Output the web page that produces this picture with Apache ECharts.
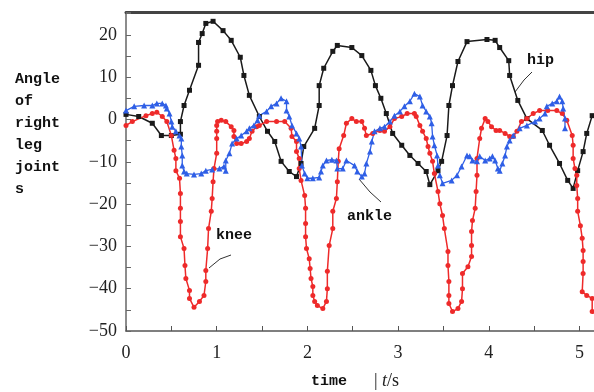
<!DOCTYPE html>
<html>
<head>
<meta charset="utf-8">
<script src="https://cdn.jsdelivr.net/npm/echarts@6/dist/echarts.min.js"></script>
<style>
html,body{margin:0;padding:0;background:#fff;}
#main{width:594px;height:392px;}
</style>
</head>
<body>
<div id="main"></div>
<script>
// hip (black, squares)
var hipT = [0.00,0.14,0.29,0.39,0.50,0.60,0.60,0.64,0.70,0.80,0.80,0.84,0.88,0.96,1.07,1.16,1.26,1.30,1.36,1.47,1.56,1.64,1.71,1.80,1.88,1.93,1.96,2.08,2.13,2.13,2.18,2.28,2.33,2.49,2.60,2.70,2.75,2.81,2.87,2.94,3.04,3.13,3.22,3.31,3.35,3.44,3.48,3.54,3.56,3.60,3.66,3.76,3.98,4.07,4.12,4.22,4.23,4.32,4.42,4.59,4.67,4.78,4.87,4.93,4.98,5.04,5.08,5.14];
var hipV = [1.2,0.7,-0.9,-3.8,-3.8,-3.5,-0.5,3.3,6.9,12.8,18.2,20.3,22.7,23.2,21.0,18.7,14.7,10.4,5.7,0.7,-2.8,-5.2,-9.9,-12.3,-13.5,-10.4,-6.4,-2.1,3.3,8.0,12.1,16.1,17.5,17.0,15.1,11.6,8.0,5.0,1.4,-3.3,-6.1,-8.5,-10.4,-12.3,-15.4,-12.1,-9.9,-3.8,3.3,8.0,13.7,18.4,18.9,18.7,17.0,13.9,10.4,4.5,0.2,-2.6,-6.1,-10.4,-14.4,-16.3,-12.1,-7.6,-3.3,0.9];

// knee (red, circles)
var kneeT = [0.00,0.07,0.22,0.29,0.34,0.40,0.45,0.50,0.53,0.55,0.55,0.59,0.60,0.60,0.60,0.60,0.64,0.65,0.66,0.70,0.70,0.75,0.81,0.86,0.88,0.88,0.90,0.91,0.94,0.95,0.96,0.97,1.00,1.00,1.00,1.00,1.01,1.05,1.10,1.16,1.19,1.19,1.22,1.27,1.33,1.36,1.39,1.44,1.47,1.55,1.66,1.75,1.82,1.83,1.88,1.88,1.91,1.91,1.93,1.97,1.98,1.98,1.98,1.99,2.02,2.03,2.04,2.06,2.06,2.08,2.11,2.17,2.21,2.22,2.22,2.24,2.28,2.28,2.32,2.33,2.34,2.35,2.40,2.43,2.49,2.54,2.60,2.63,2.65,2.72,2.80,2.85,2.91,2.96,3.04,3.10,3.18,3.20,3.24,3.27,3.31,3.33,3.35,3.38,3.40,3.44,3.46,3.49,3.51,3.55,3.55,3.56,3.56,3.56,3.60,3.66,3.70,3.71,3.71,3.77,3.81,3.81,3.81,3.82,3.85,3.86,3.87,3.87,3.90,3.92,3.96,3.99,4.03,4.08,4.12,4.18,4.23,4.27,4.31,4.36,4.42,4.49,4.56,4.65,4.75,4.81,4.86,4.92,4.93,4.93,4.95,4.97,4.97,4.98,4.98,5.01,5.03,5.04,5.04,5.04,5.03,5.08,5.14,5.14];
var kneeV = [-1.4,-0.5,0.9,1.4,1.7,0.7,-0.5,-3.8,-7.3,-9.2,-12.1,-13.9,-17.5,-21.0,-24.1,-27.7,-30.5,-34.5,-37.6,-40.4,-42.3,-44.4,-43.0,-41.6,-38.3,-35.7,-30.5,-25.8,-21.7,-18.7,-14.7,-11.6,-8.0,-4.5,-2.8,-1.4,-0.5,-0.2,-0.5,-1.7,-2.6,-4.0,-5.7,-5.7,-5.2,-4.5,-2.8,-1.7,-1.4,-0.5,-0.5,-0.5,-2.1,-4.0,-5.2,-7.6,-9.2,-11.6,-14.4,-18.0,-21.0,-24.6,-27.7,-30.5,-32.9,-35.2,-37.6,-39.5,-41.6,-43.0,-44.0,-44.7,-43.0,-40.0,-35.9,-29.8,-25.8,-21.7,-18.7,-14.7,-9.9,-6.9,-3.8,-0.9,0.2,-0.5,-0.5,-2.1,-3.8,-3.3,-2.6,-2.8,-1.7,0.2,0.7,1.4,1.4,0.7,-1.4,-2.8,-4.5,-6.4,-8.0,-9.9,-12.8,-17.0,-19.9,-22.7,-25.8,-31.2,-34.5,-38.3,-41.6,-43.5,-45.4,-44.7,-43.0,-40.0,-36.4,-34.8,-32.4,-29.8,-26.5,-23.9,-21.0,-17.0,-13.2,-9.2,-4.5,-2.1,0.2,-0.5,-1.7,-2.6,-2.6,-3.3,-4.0,-4.0,-2.8,-0.5,0.2,1.4,2.1,2.1,2.1,1.4,-0.2,-3.8,-6.1,-9.2,-11.6,-13.2,-15.6,-18.7,-21.7,-25.1,-28.1,-31.0,-33.6,-36.4,-40.7,-41.6,-42.3,-45.4];

// ankle (blue, triangles)
var ankleT = [0.00,0.09,0.20,0.29,0.34,0.40,0.44,0.45,0.48,0.50,0.51,0.55,0.59,0.61,0.61,0.62,0.62,0.64,0.67,0.75,0.83,0.88,0.95,1.03,1.08,1.10,1.10,1.14,1.17,1.22,1.27,1.33,1.36,1.41,1.45,1.47,1.55,1.60,1.66,1.71,1.77,1.77,1.80,1.83,1.88,1.91,1.93,1.94,1.97,2.00,2.06,2.13,2.15,2.17,2.21,2.27,2.32,2.33,2.39,2.43,2.52,2.55,2.60,2.63,2.65,2.69,2.71,2.74,2.80,2.85,2.91,2.96,3.02,3.07,3.13,3.18,3.24,3.27,3.31,3.35,3.37,3.38,3.40,3.43,3.44,3.46,3.49,3.59,3.65,3.70,3.76,3.79,3.82,3.87,3.90,3.96,4.01,4.04,4.07,4.10,4.12,4.15,4.18,4.20,4.23,4.27,4.34,4.42,4.51,4.56,4.62,4.64,4.70,4.75,4.78,4.81,4.82,4.84,4.84];
var ankleV = [2.1,3.1,3.3,3.3,3.8,3.8,3.3,2.6,1.4,-0.5,-1.7,-2.8,-3.8,-4.5,-6.4,-8.5,-10.9,-12.3,-12.8,-13.0,-12.8,-12.1,-11.8,-11.6,-11.1,-12.1,-9.7,-8.0,-5.7,-4.5,-3.8,-2.8,-2.1,-1.4,-0.2,0.9,1.9,3.1,3.8,5.0,4.3,2.1,0.7,-1.4,-3.3,-4.5,-6.4,-10.9,-12.8,-13.9,-13.9,-13.7,-12.3,-10.9,-9.7,-9.5,-9.7,-11.6,-11.6,-9.7,-10.9,-12.3,-13.5,-12.8,-10.4,-7.6,-5.2,-2.8,-2.1,-1.7,-0.5,0.9,1.9,3.1,4.3,6.1,5.4,3.3,1.9,0.7,-0.9,-4.0,-6.1,-8.5,-10.9,-13.2,-15.1,-14.4,-13.2,-11.1,-8.5,-8.7,-9.7,-9.9,-8.7,-9.7,-9.2,-8.7,-9.7,-11.6,-12.1,-10.4,-8.5,-6.4,-5.0,-3.8,-2.1,-1.4,-0.5,0.2,1.4,3.1,3.8,4.3,5.4,4.3,2.6,0.2,-2.1];

var xTicks = [0, 1, 2, 3, 4, 5];
var yTicks = [-50, -40, -30, -20, -10, 0, 10, 20];

function pairs(t, v) {
	var out = [];
	for (var i = 0; i < t.length; i++) {
		out.push([t[i], v[i]]);
	}
	return out;
}

var myChart = echarts.init(document.getElementById('main'));
var serif = 'Liberation Serif';
var mono = 'Liberation Mono';

var option = {
	animation: false,
	backgroundColor: '#fff',
	grid: {
		left: 126,
		top: 12,
		right: 0,
		bottom: 61
	},
	xAxis: [
		{
			type: 'value',
			min: 0,
			max: 5.16,
			interval: 0.5,
			axisLine: {onZero: false, lineStyle: {color: '#555', width: 1.5}},
			axisTick: {inside: true, length: 5, lineStyle: {color: '#555'}},
			splitLine: {show: false},
			axisLabel: {
				color: '#222',
				fontFamily: serif,
				fontSize: 18,
				margin: 13,
				showMaxLabel: false,
				formatter: function (v) {
					return xTicks.indexOf(v) >= 0 ? String(v) : '';
				}
			}
		},
		{
			type: 'value',
			position: 'top',
			min: 0,
			max: 5.16,
			axisLine: {show: true, onZero: false, lineStyle: {color: '#444', width: 3}},
			axisTick: {show: false},
			axisLabel: {show: false},
			splitLine: {show: false}
		}
	],
	yAxis: {
		type: 'value',
		min: -50,
		max: 25.4,
		interval: 5,
		axisLine: {show: true, onZero: false, lineStyle: {color: '#666', width: 1.5}},
		axisTick: {show: true, inside: true, length: 5, lineStyle: {color: '#666'}},
		splitLine: {show: false},
		axisLabel: {
			color: '#222',
			fontFamily: serif,
			fontSize: 18,
			margin: 9,
			formatter: function (v) {
				if (yTicks.indexOf(v) < 0) return '';
				return String(v).replace('-', '\u2212');
			}
		}
	},
	series: [
		{
			name: 'hip',
			type: 'line',
			data: pairs(hipT, hipV),
			symbol: 'rect',
			symbolSize: 5,
			color: '#1a1a1a',
			lineStyle: {width: 1.5, color: '#1a1a1a'},
			itemStyle: {color: '#1a1a1a'}
		},
		{
			name: 'knee',
			type: 'line',
			data: pairs(kneeT, kneeV),
			symbol: 'circle',
			symbolSize: 5,
			color: '#ee2a2a',
			lineStyle: {width: 1.5, color: '#ee2a2a'},
			itemStyle: {color: '#ee2a2a'}
		},
		{
			name: 'ankle',
			type: 'line',
			data: pairs(ankleT, ankleV),
			symbol: 'triangle',
			symbolSize: 6,
			color: '#2f5fe6',
			lineStyle: {width: 1.3, color: '#2f5fe6'},
			itemStyle: {color: '#2f5fe6'}
		}
	],
	graphic: [
		{
			type: 'text', left: 15, top: 68,
			style: {
				text: 'Angle\nof\nright\nleg\njoint\ns',
				font: 'bold 15px ' + mono,
				lineHeight: 22,
				fill: '#111'
			}
		},
		{
			type: 'text', left: 311, top: 372,
			style: {
				text: '{b|time   }{s||}{s| }{i|t}{s|/s}',
				rich: {
					b: {font: 'bold 15px ' + mono, fill: '#111'},
					s: {font: '18px ' + serif, fill: '#222'},
					i: {font: 'italic 18px ' + serif, fill: '#222'}
				}
			}
		},
		{type: 'text', left: 527, top: 53, style: {text: 'hip', font: 'bold 15px ' + mono, fill: '#111'}},
		{type: 'text', left: 216, top: 228, style: {text: 'knee', font: 'bold 15px ' + mono, fill: '#111'}},
		{type: 'text', left: 347, top: 209, style: {text: 'ankle', font: 'bold 15px ' + mono, fill: '#111'}},
		{type: 'polyline', shape: {points: [[532, 72], [524, 80], [515, 92]]}, style: {stroke: '#333', lineWidth: 1, fill: null}},
		{type: 'polyline', shape: {points: [[231, 255], [220, 259], [209, 268]]}, style: {stroke: '#333', lineWidth: 1, fill: null}},
		{type: 'polyline', shape: {points: [[359, 179], [370, 192], [381, 202]]}, style: {stroke: '#333', lineWidth: 1, fill: null}}
	]
};
myChart.setOption(option);
</script>
</body>
</html>
